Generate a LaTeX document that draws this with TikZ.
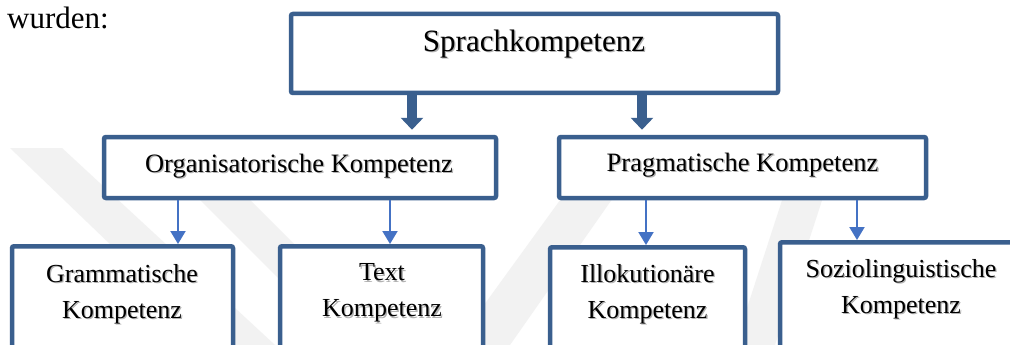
\documentclass[tikz,border=0pt]{standalone}
\usepackage{fontspec}
\setmainfont{Liberation Serif}
\usetikzlibrary{arrows.meta,calc}

\definecolor{boxblue}{HTML}{3A5F8E}
\definecolor{linkblue}{HTML}{4472C4}
\definecolor{markgray}{HTML}{F2F2F2}

\tikzset{
  frame/.style={draw=boxblue, line width=4.5pt, fill=white, rounded corners=2pt, inner sep=0pt},
  biglink/.style={draw=boxblue, line width=10pt, -{Triangle[width=22pt,length=12pt]}},
  smalllink/.style={draw=linkblue, line width=2pt, -{Triangle[width=15pt,length=13pt]}},
  lbl/.style={align=center, inner sep=0pt},
  big/.style={font=\fontsize{31}{36}\selectfont},
  mid/.style={font=\fontsize{26.5}{36}\selectfont},
  low/.style={font=\fontsize{26}{36}\selectfont},
}

% label with a soft grey drop shadow: name, position, style, text
\newcommand\shlabel[4]{%
  \node[lbl,#3,text=black!30] at ($(#2)+(1.3,1.3)$) {#4};
  \node[lbl,#3] (#1) at (#2) {#4};}

\begin{document}
\begin{tikzpicture}[x=1pt,y=-1pt]
\clip (0,0) rectangle (1010,345);
\fill[white] (0,0) rectangle (1010,345);

% faint background emblem
\fill[markgray] (10,148) -- (62,148) -- (275,345) -- (215,345) -- cycle;
\fill[markgray] (140,140) -- (190,140) -- (395,345) -- (345,345) -- cycle;
\fill[markgray] (600,145) -- (650,145) -- (510,345) -- (455,345) -- cycle;
\fill[markgray] (800,145) -- (840,145) -- (775,345) -- (735,345) -- cycle;

% lead-in text
\node[big, anchor=base west, inner sep=0pt] (intro) at (7,29) {wurden:};

% boxes
\node[frame, minimum width=487pt, minimum height=79pt] (root) at (534.5,53.5) {};
\node[frame, minimum width=392pt, minimum height=61pt] (org) at (300,167.5) {};
\node[frame, minimum width=367pt, minimum height=61pt] (prag) at (742.5,167.5) {};
\node[frame, minimum width=221pt, minimum height=150pt, anchor=north] (gram) at (122.5,244) {};
\node[frame, minimum width=203pt, minimum height=150pt, anchor=north] (text) at (381.5,244) {};
\node[frame, minimum width=195pt, minimum height=150pt, anchor=north] (illo) at (647.5,245) {};
\node[frame, minimum width=260pt, minimum height=150pt, anchor=north] (sozi) at (910,240) {};

% labels
\shlabel{rootlbl}{534,44}{big}{Sprachkompetenz}
\shlabel{orglbl}{299,166}{mid}{Organisatorische Kompetenz}
\shlabel{praglbl}{742.5,165}{mid}{Pragmatische Kompetenz}
\shlabel{gramlbl}{122,294}{low}{Grammatische\\Kompetenz}
\shlabel{textlbl}{382,293}{low}{Text\\Kompetenz}
\shlabel{illolbl}{647.5,294}{low}{Illokutionäre\\Kompetenz}
\shlabel{sozilbl}{901,289}{low}{Soziolinguistische\\Kompetenz}

% connectors
\coordinate (c1) at (412,0);
\coordinate (c2) at (642,0);
\draw[biglink, shorten >=5pt] (root.south -| c1) -- (org.north -| c1);
\draw[biglink, shorten >=5pt] (root.south -| c2) -- (prag.north -| c2);

\coordinate (d1) at (178,0);
\coordinate (d2) at (390,0);
\coordinate (d3) at (646,0);
\coordinate (d4) at (857,0);
\draw[smalllink] (org.south -| d1) -- (gram.north -| d1);
\draw[smalllink] (org.south -| d2) -- (text.north -| d2);
\draw[smalllink] (prag.south -| d3) -- (illo.north -| d3);
\draw[smalllink] (prag.south -| d4) -- (sozi.north -| d4);
\end{tikzpicture}
\end{document}
